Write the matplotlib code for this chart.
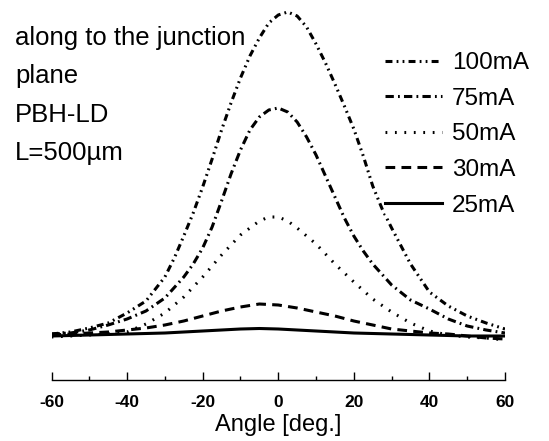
import matplotlib
matplotlib.use("Agg")
import matplotlib.pyplot as plt
from matplotlib.ticker import MultipleLocator

plt.rcParams['font.family'] = ['Liberation Sans', 'DejaVu Sans']
plt.rcParams['lines.scale_dashes'] = False

# ---- data (arbitrary intensity units) ----
ang_100 = [-60, -55, -50, -45, -40, -35, -30, -27.5, -25, -22.5, -20, -17.5, -15, -12.5,
           -10, -7.5, -5, -2.5, 0, 2.5, 5, 7.5, 10, 12.5, 15, 17.5, 20, 22.5, 25, 27.5,
           30, 35, 40, 45, 50, 55, 60]
val_100 = [0, 2, 6, 11, 21, 33, 57, 76, 98, 121, 147, 175, 204, 231,
           256, 278, 296, 311, 319, 322, 318, 307, 290, 271, 250, 228, 205, 178, 148, 125,
           106, 70, 42, 28, 18, 11, 5]

ang_75 = [-60, -55, -50, -45, -40, -35, -30, -25, -22.5, -20, -17.5, -15, -12.5, -10,
          -7.5, -5, -2.5, 0, 2.5, 5, 7.5, 10, 12.5, 15, 17.5, 20, 22.5, 25, 30, 35, 40,
          45, 50, 55, 60]
val_75 = [0, 1, 4, 9, 15, 23, 36, 57, 70, 86, 107, 133, 160, 184,
          204, 217, 224, 226, 222, 212, 197, 179, 158, 137, 116, 98, 83, 70, 49, 34, 25,
          15, 8, 4, 1]

ang_50 = [-60, -55, -50, -45, -40, -35, -30, -25, -20, -15, -10, -5, -2.5, 0, 2.5, 5,
          10, 15, 20, 25, 30, 35, 40, 45, 50, 55, 60]
val_50 = [-3, -2, -1, 0, 2, 10, 21, 37, 57, 79, 99, 113, 117, 117, 113, 106,
          90, 70, 52, 35, 22, 11, 3, -1, -3, -4, -6]

ang_30 = [-60, -55, -50, -45, -40, -35, -30, -25, -20, -15, -10, -5, 0, 5, 10, 15,
          20, 25, 30, 35, 40, 45, 50, 55, 60]
val_30 = [-1, 0, 1, 2, 4, 6, 9, 13, 18, 23, 27, 30, 29, 26, 22, 18,
          13, 9, 5, 3, 1, 0, -2, -4, -5]

ang_25 = [-60, -50, -40, -30, -20, -10, -5, 0, 10, 20, 30, 40, 50, 60]
val_25 = [-2, -1, 0, 1, 3, 5, 5.5, 5, 3, 1, 0, -1, -2, -2]

labels = ['100mA', '75mA', '50mA', '30mA', '25mA']
x_ticks = [-60, -40, -20, 0, 20, 40, 60]
info_lines = ['along to the junction', 'plane', 'PBH-LD', 'L=500\u00b5m']

# ---- figure ----
W, H = 549, 441
fig = plt.figure(figsize=(W / 100, H / 100), dpi=100)
ax_h = 375
ax = fig.add_axes([51.5 / W, 1 - 380 / H, 453.5 / W, ax_h / H])

lw = 2.2
ax.plot(ang_100, val_100, color='black', lw=lw, dashes=(5, 3, 1.3, 3, 1.3, 3), label=labels[0])
ax.plot(ang_75, val_75, color='black', lw=lw, dashes=(6, 3, 1.3, 3), label=labels[1])
ax.plot(ang_50, val_50, color='black', lw=lw, dashes=(1.3, 5.5), label=labels[2])
ax.plot(ang_30, val_30, color='black', lw=lw, dashes=(7, 4.5), label=labels[3])
ax.plot(ang_25, val_25, color='black', lw=lw, label=labels[4])

ax.set_xlim(-60, 60)
ax.set_ylim(-46, 329)
for s in ['top', 'left', 'right']:
    ax.spines[s].set_visible(False)
ax.spines['bottom'].set_linewidth(1.0)
ax.set_yticks([])
ax.set_xticks(x_ticks)
ax.set_xticklabels([str(t) for t in x_ticks], fontsize=12.5, fontweight='bold')
ax.xaxis.set_minor_locator(MultipleLocator(10))
ax.tick_params(axis='x', which='major', direction='in', length=6, width=1.0, pad=11)
ax.tick_params(axis='x', which='minor', direction='in', length=3, width=1.0)
ax.set_xlabel('Angle [deg.]', fontsize=17)
ax.xaxis.set_label_coords(0.5, -34 / ax_h)

leg = ax.legend(loc='upper left', bbox_to_anchor=(385 / W, 1 - 52 / H),
                bbox_transform=fig.transFigure, frameon=True, fontsize=17.5,
                handlelength=2.35, handletextpad=0.41, labelspacing=0.56,
                borderpad=0.0, borderaxespad=0.0)
leg.get_frame().set_facecolor('white')
leg.get_frame().set_edgecolor('none')
leg.get_frame().set_alpha(1)

baselines = [45, 83, 122, 160]
for txt, b in zip(info_lines, baselines):
    fig.text(15 / W, 1 - b / H, txt, fontsize=18.5, va='baseline', ha='left')

fig.savefig('out.png', dpi=100)
